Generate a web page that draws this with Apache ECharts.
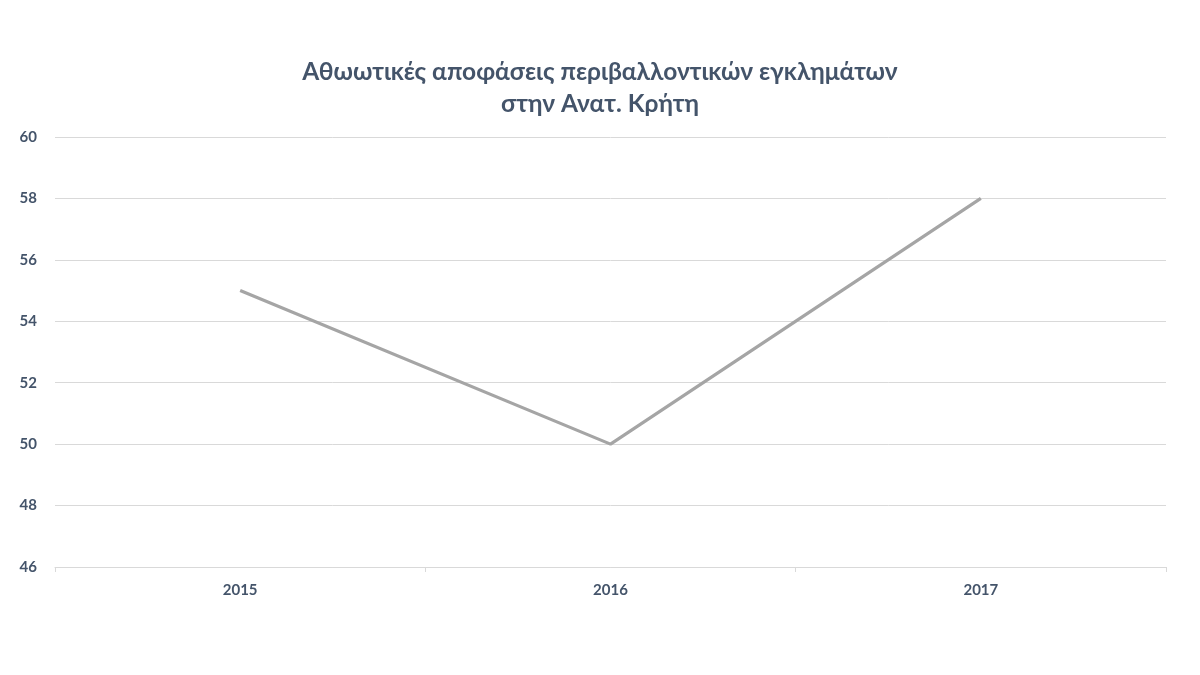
<!DOCTYPE html>
<html>
<head>
<meta charset="utf-8">
<script src="https://cdn.jsdelivr.net/npm/echarts@6/dist/echarts.min.js"></script>
<style>html,body{margin:0;padding:0;background:#fff}#c{width:1200px;height:675px}</style>
</head>
<body>
<div id="c"></div>
<script>
const titleText = "Αθωωτικές αποφάσεις περιβαλλοντικών εγκλημάτων\nστην Ανατ. Κρήτη";
const categories = ["2015", "2016", "2017"];
const values = [55, 50, 58];
const yMin = 46, yMax = 60, yStep = 2;

const font = "Lato, 'Open Sans', sans-serif";
const chart = echarts.init(document.getElementById('c'));
chart.setOption({
  animation: false,
  title: {
    text: titleText,
    left: 'center',
    top: 51,
    textStyle: { fontFamily: font, fontSize: 24.5, fontWeight: 'bold', color: '#44546A', lineHeight: 32 }
  },
  grid: { left: 55, right: 34, top: 137, bottom: 108, containLabel: false },
  xAxis: {
    type: 'category',
    data: categories,
    boundaryGap: true,
    axisLine: { lineStyle: { color: '#D9D9D9', width: 1 } },
    axisTick: { show: true, length: 5, lineStyle: { color: '#D9D9D9' } },
    axisLabel: { fontFamily: font, fontSize: 15, fontWeight: 'bold', color: '#44546A', margin: 16 }
  },
  yAxis: {
    type: 'value',
    min: yMin, max: yMax, interval: yStep,
    axisLine: { show: false },
    axisTick: { show: false },
    splitLine: { lineStyle: { color: '#D9D9D9', width: 1 } },
    axisLabel: { fontFamily: font, fontSize: 15, fontWeight: 'bold', color: '#44546A', margin: 18 }
  },
  series: [{
    type: 'line',
    data: values,
    symbol: 'none',
    lineStyle: { color: '#A5A5A5', width: 3.2 }
  }]
});
</script>
</body>
</html>
